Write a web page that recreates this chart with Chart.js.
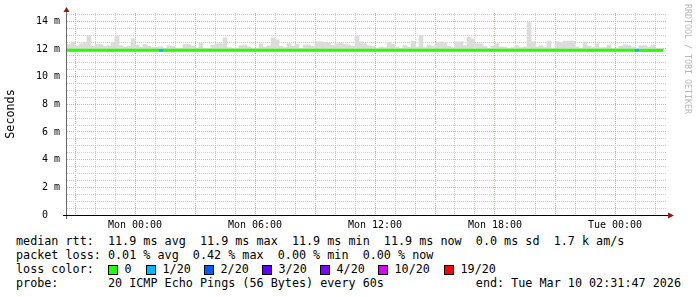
<!DOCTYPE html>
<html>
<head>
<meta charset="utf-8">
<script src="https://cdn.jsdelivr.net/npm/chart.js@4.4.1/dist/chart.umd.min.js"></script>
<style>
html,body{margin:0;padding:0;background:#fff;width:697px;height:297px;overflow:hidden;}
#wrap{position:relative;width:697px;height:297px;}
canvas{position:absolute;left:0;top:0;}
.txt{position:absolute;font-family:"DejaVu Sans Mono",monospace;font-size:11.75px;line-height:14px;white-space:pre;color:#000;}
.sq{position:absolute;width:10px;height:10px;box-sizing:border-box;border:1px solid #000;}
.wm{position:absolute;left:684px;top:4px;font-family:"DejaVu Sans Mono",monospace;font-size:8.3px;line-height:8px;color:#b8b8b8;writing-mode:vertical-rl;white-space:pre;}
</style>
</head>
<body>
<div id="wrap">
<canvas id="c" width="697" height="232"></canvas>
<div class="wm">RRDTOOL / TOBI OETIKER</div>
</div>
<script>
// ---- data ----
const hoursStart = -3.4;   // hours relative to Mon 00:00 (Sun 20:36)
const hoursEnd = 26.6;
const barHours = 0.2;      // 12 minute consolidation step

const smokeTop = [
12.33,12.50,12.21,12.38,12.50,12.95,12.19,12.33,12.33,12.19,12.24,12.50,12.95,12.24,12.12,12.19,12.74,12.29,12.14,12.33,12.19,12.12,12.12,12.17,12.05,12.24,12.19,12.05,12.05,12.33,12.33,12.19,12.07,12.40,12.05,12.05,12.26,
12.38,12.38,12.81,12.10,12.05,12.05,12.24,12.29,12.14,12.05,12.05,12.38,12.14,12.24,12.81,12.67,12.19,12.10,12.38,12.19,12.33,12.05,12.29,12.29,12.19,12.52,12.52,12.48,12.43,12.24,12.38,12.43,12.33,12.29,12.19,12.95,12.52,12.38,
12.24,12.19,12.05,12.14,12.10,12.48,12.33,12.14,12.05,12.24,12.14,12.57,12.14,13.00,12.10,12.29,12.19,12.48,12.52,12.43,12.19,12.10,12.52,12.52,12.24,12.86,12.71,12.38,12.38,12.19,12.05,12.19,12.38,12.14,12.14,12.05,12.10,
12.24,12.10,12.14,13.90,12.52,12.14,12.24,12.10,12.57,12.05,12.52,12.48,12.57,12.57,12.57,12.14,12.05,12.52,12.19,12.10,12.38,12.10,12.10,12.29,12.05,12.05,12.19,12.29,12.24,12.14,12.05,12.24,12.24,12.14,12.29,12.05,12.05
];
const smokeBottom = [
11.85,11.85,11.85,11.85,11.85,11.85,11.85,11.85,11.85,11.85,11.85,11.76,11.85,11.85,11.85,11.85,11.85,11.85,11.85,11.85,11.85,11.85,11.85,11.85,11.85,11.85,11.76,11.85,11.85,11.85,11.85,11.85,11.85,11.85,11.85,11.85,11.85,
11.85,11.85,11.85,11.85,11.85,11.85,11.85,11.85,11.85,11.85,11.85,11.85,11.85,11.85,11.85,11.85,11.85,11.85,11.85,11.85,11.85,11.85,11.85,11.85,11.85,11.85,11.85,11.85,11.85,11.85,11.85,11.85,11.85,11.85,11.85,11.85,11.85,11.85,
11.85,11.85,11.85,11.85,11.85,11.85,11.85,11.85,11.85,11.85,11.85,11.85,11.85,11.85,11.85,11.85,11.85,11.85,11.85,11.85,11.85,11.85,11.85,11.85,11.85,11.85,11.85,11.85,11.85,11.85,11.85,11.85,11.85,11.85,11.85,11.85,11.85,
11.85,11.85,11.85,11.85,11.85,11.85,11.85,11.85,11.85,11.85,11.85,11.85,11.85,11.85,11.85,11.85,11.85,11.85,11.85,11.76,11.85,11.85,11.85,11.85,11.85,11.85,11.85,11.85,11.85,11.85,11.85,11.85,11.85,11.85,11.85,11.85,11.85
];
const medianRtt = [
11.9,11.9,11.9,11.9,11.9,11.9,11.9,11.9,11.9,11.9,11.9,11.9,11.9,11.9,11.9,11.9,11.9,11.9,11.9,11.9,11.9,11.9,11.9,11.9,11.9,11.9,11.9,11.9,11.9,11.9,11.9,11.9,11.9,11.9,11.9,11.9,11.9,
11.9,11.9,11.9,11.9,11.9,11.9,11.9,11.9,11.9,11.9,11.9,11.9,11.9,11.9,11.9,11.9,11.9,11.9,11.9,11.9,11.9,11.9,11.9,11.9,11.9,11.9,11.9,11.9,11.9,11.9,11.9,11.9,11.9,11.9,11.9,11.9,11.9,11.9,
11.9,11.9,11.9,11.9,11.9,11.9,11.9,11.9,11.9,11.9,11.9,11.9,11.9,11.9,11.9,11.9,11.9,11.9,11.9,11.9,11.9,11.9,11.9,11.9,11.9,11.9,11.9,11.9,11.9,11.9,11.9,11.9,11.9,11.9,11.9,11.9,11.9,
11.9,11.9,11.9,11.9,11.9,11.9,11.9,11.9,11.9,11.9,11.9,11.9,11.9,11.9,11.9,11.9,11.9,11.9,11.9,11.9,11.9,11.9,11.9,11.9,11.9,11.9,11.9,11.9,11.9,11.9,11.9,11.9,11.9,11.9,11.9,11.9,11.9
];
// loss level index per step (0 = 0/20, 1 = 1/20 ...)
const lossLevel = [
0,0,0,0,0,0,0,0,0,0,0,0,0,0,0,0,0,0,0,0,0,0,0,1,0,0,0,0,0,0,0,0,0,0,0,0,0,
0,0,0,0,0,0,0,0,0,0,0,0,0,0,0,0,0,0,0,0,0,0,0,0,0,0,0,0,0,0,0,0,0,0,0,0,0,0,
0,0,0,0,0,0,0,0,0,0,0,0,0,0,0,0,0,0,0,0,0,0,0,0,0,0,0,0,0,0,0,0,0,0,0,0,0,
0,0,0,0,0,0,0,0,0,0,0,0,0,0,0,0,0,0,0,0,0,0,0,0,0,0,0,0,0,0,1,0,0,0,0,0,0
];

const lossLabels = ['0','1/20','2/20','3/20','4/20','10/20','19/20'];
const lossColors = ['#26ff00','#00b8ff','#0059ff','#5e00ff','#7e00ff','#dd00ff','#ff0000'];

const xLabelHours = [0, 6, 12, 18, 24];
const xLabelTexts = ['Mon 00:00','Mon 06:00','Mon 12:00','Mon 18:00','Tue 00:00'];
const yLabelValues = [0, 2, 4, 6, 8, 10, 12, 14];
const yLabelTexts = ['0  ','2 m','4 m','6 m','8 m','10 m','12 m','14 m'];

const rttStats = ['11.9 ms avg','11.9 ms max','11.9 ms min','11.9 ms now','0.0 ms sd','1.7 k am/s'];
const lossStats = ['0.01 % avg','0.42 % max','0.00 % min','0.00 % now'];
const probeText = '20 ICMP Echo Pings (56 Bytes) every 60s';
const endText = 'end: Tue Mar 10 02:31:47 2026';

// ---- layout/style ----
const MONO = '"DejaVu Sans Mono", monospace';
const majorGrid = '#e2a6a6';
const minorGrid = '#cdcdcd';

const smokeData = smokeTop.map((t, k) => ({x: hoursStart + (k + 0.5) * barHours, y: [smokeBottom[k], t]}));
const medianData = medianRtt.map((m, k) => ({x: hoursStart + k * barHours, y: m}));
medianData.push({x: hoursStart + medianRtt.length * barHours, y: medianRtt[medianRtt.length - 1]});

const hourTicks = [];
for (let h = Math.ceil(hoursStart); h <= Math.floor(hoursEnd); h++) hourTicks.push(h);
const yTicks = [];
for (let v = 0; v <= 14.5; v += 0.5) yTicks.push(v);

const axesPlugin = {
  id: 'rrdAxes',
  afterDatasetsDraw(chart) {
    const {ctx, chartArea: a} = chart;
    ctx.save();
    ctx.lineWidth = 1;
    ctx.strokeStyle = '#6a6a6a';
    ctx.beginPath();
    ctx.moveTo(a.left - 0.5, a.bottom + 4);
    ctx.lineTo(a.left - 0.5, a.top - 3);
    ctx.stroke();
    ctx.strokeStyle = '#000';
    ctx.beginPath();
    ctx.moveTo(a.left - 4, a.bottom + 0.5);
    ctx.lineTo(a.right + 1, a.bottom + 0.5);
    ctx.stroke();
    ctx.fillStyle = '#9a1515';
    ctx.beginPath();
    ctx.moveTo(a.left - 0.5, a.top - 6);
    ctx.lineTo(a.left - 3.5, a.top - 1);
    ctx.lineTo(a.left + 2.5, a.top - 1);
    ctx.closePath();
    ctx.fill();
    ctx.beginPath();
    ctx.moveTo(a.right + 7, a.bottom + 0.5);
    ctx.lineTo(a.right + 1, a.bottom - 2.5);
    ctx.lineTo(a.right + 1, a.bottom + 3.5);
    ctx.closePath();
    ctx.fill();
    ctx.restore();
  }
};

new Chart(document.getElementById('c'), {
  type: 'bar',
  data: {
    datasets: [
      {
        type: 'line',
        label: 'median rtt',
        data: medianData,
        stepped: 'after',
        borderWidth: 3,
        borderCapStyle: 'butt',
        pointRadius: 0,
        fill: false,
        order: 0,
        borderColor: lossColors[0],
        segment: { borderColor: c => lossColors[lossLevel[c.p0DataIndex] || 0] }
      },
      {
        type: 'bar',
        label: 'smoke',
        data: smokeData,
        backgroundColor: '#dcdcdc',
        borderWidth: 0,
        barPercentage: 1,
        categoryPercentage: 1,
        grouped: false,
        order: 1
      }
    ]
  },
  options: {
    responsive: false,
    animation: false,
    devicePixelRatio: 1,
    layout: { padding: { top: 13, right: 30, left: 0, bottom: 0 } },
    plugins: { legend: { display: false }, tooltip: { enabled: false } },
    scales: {
      x: {
        type: 'linear',
        offset: false,
        min: hoursStart,
        max: hoursEnd,
        afterBuildTicks: s => { s.ticks = hourTicks.map(v => ({value: v})); },
        afterFit: s => { s.height = 17; },
        border: { display: false, dash: [1, 1] },
        grid: {
          offset: false,
          drawTicks: false,
          color: c => (c.tick && c.tick.value % 3 === 0) ? majorGrid : minorGrid
        },
        ticks: {
          autoSkip: false,
          maxRotation: 0,
          padding: 4,
          color: '#000',
          font: { family: MONO, size: 10 },
          callback: v => { const i = xLabelHours.indexOf(v); return i >= 0 ? xLabelTexts[i] : ''; }
        }
      },
      y: {
        min: 0,
        max: 14.6,
        afterBuildTicks: s => { s.ticks = yTicks.map(v => ({value: v})); },
        afterFit: s => { s.width = 67; },
        border: { display: false, dash: [1, 1] },
        grid: {
          drawTicks: false,
          color: c => (c.tick && c.tick.value % 2 === 0) ? majorGrid : minorGrid
        },
        ticks: {
          autoSkip: false,
          padding: 7,
          color: '#000',
          font: { family: MONO, size: 10 },
          callback: v => { const i = yLabelValues.indexOf(v); return i >= 0 ? yLabelTexts[i] : ''; }
        },
        title: {
          display: true,
          text: 'Seconds',
          color: '#000',
          font: { family: MONO, size: 11.75 },
          padding: { top: 4, bottom: 0 }
        }
      }
    }
  },
  plugins: [axesPlugin]
});

// ---- text legend below the graph ----
const wrap = document.getElementById('wrap');
function addText(txt, left, top) {
  const d = document.createElement('div');
  d.className = 'txt';
  d.style.left = left + 'px';
  d.style.top = top + 'px';
  d.textContent = txt;
  wrap.appendChild(d);
  return d;
}
addText('median rtt:  ' + rttStats.join('  '), 16, 234);
addText('packet loss: ' + lossStats.join('  '), 16, 248);
addText('loss color:', 16, 262);
const lossLegendX = [108, 146, 204, 262, 320, 378, 444];
lossLabels.forEach((lab, i) => {
  const sq = document.createElement('div');
  sq.className = 'sq';
  sq.style.left = lossLegendX[i] + 'px';
  sq.style.top = '265px';
  sq.style.background = lossColors[i];
  wrap.appendChild(sq);
  addText(lab, lossLegendX[i] + 16.5, 262);
});
addText('probe:       ' + probeText, 16, 276);
const e = addText(endText, 0, 276);
e.style.left = 'auto';
e.style.right = '16px';
</script>
</body>
</html>
